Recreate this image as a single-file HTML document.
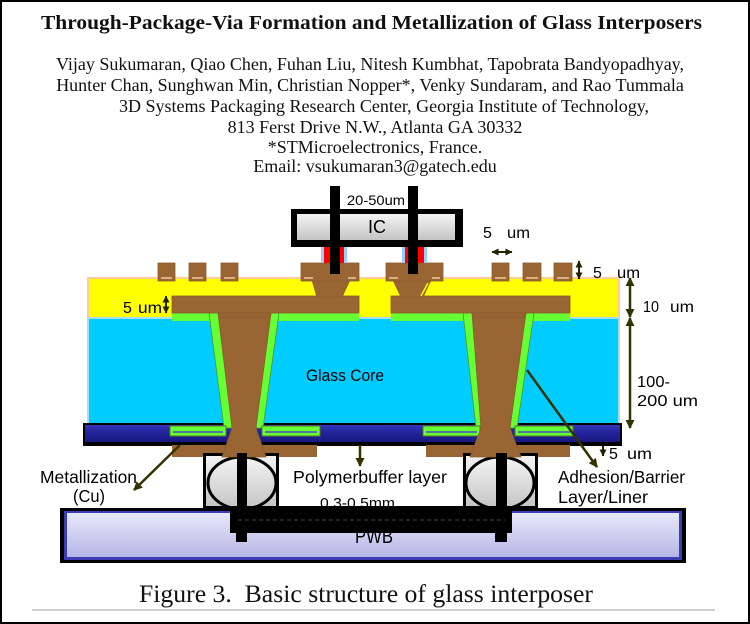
<!DOCTYPE html>
<html><head><meta charset="utf-8"><style>
html,body{margin:0;padding:0;background:#fff;}
svg{display:block;}
.s{font-family:"Liberation Sans","DejaVu Sans",sans-serif;fill:#000;}
.t{font-family:"Liberation Serif","Times New Roman",serif;fill:#111;}
</style></head><body>
<svg width="750" height="624" viewBox="0 0 750 624" xmlns="http://www.w3.org/2000/svg">
<defs>
<marker id="ah" markerWidth="9" markerHeight="9" refX="8" refY="4.5" orient="auto-start-reverse" markerUnits="userSpaceOnUse"><path d="M0,0 L9,4.5 L0,9 z" fill="#333300"/></marker>
<marker id="as" markerWidth="7" markerHeight="7" refX="6.5" refY="3.5" orient="auto-start-reverse" markerUnits="userSpaceOnUse"><path d="M0,0 L7,3.5 L0,7 z" fill="#222200"/></marker>
<linearGradient id="gray" x1="0" y1="0" x2="0" y2="1"><stop offset="0" stop-color="#f4f4f4"/><stop offset="1" stop-color="#c4c4c4"/></linearGradient>
<linearGradient id="navy" x1="0" y1="0" x2="0" y2="1"><stop offset="0" stop-color="#3434b8"/><stop offset="0.5" stop-color="#22229a"/><stop offset="1" stop-color="#181880"/></linearGradient>
<linearGradient id="pwb" x1="0" y1="0" x2="0" y2="1"><stop offset="0" stop-color="#e8e8fa"/><stop offset="1" stop-color="#b6b6e8"/></linearGradient>
</defs>
<rect x="1" y="1" width="748" height="622" fill="#fff" stroke="#000" stroke-width="2"/>

<!-- header text -->
<text class="t" x="41" y="29" font-size="20" font-weight="bold" textLength="661" lengthAdjust="spacingAndGlyphs">Through-Package-Via Formation and Metallization of Glass Interposers</text>
<text class="t" x="370" y="70" font-size="18" text-anchor="middle">Vijay Sukumaran, Qiao Chen, Fuhan Liu, Nitesh Kumbhat, Tapobrata Bandyopadhyay,</text>
<text class="t" x="370" y="91" font-size="18" text-anchor="middle">Hunter Chan, Sunghwan Min, Christian Nopper*, Venky Sundaram, and Rao Tummala</text>
<text class="t" x="384" y="112" font-size="18" text-anchor="middle">3D Systems Packaging Research Center, Georgia Institute of Technology,</text>
<text class="t" x="375" y="133" font-size="18" text-anchor="middle">813 Ferst Drive N.W., Atlanta GA 30332</text>
<text class="t" x="375" y="153" font-size="18" text-anchor="middle">*STMicroelectronics, France.</text>
<text class="t" x="375" y="172" font-size="18" text-anchor="middle">Email: vsukumaran3@gatech.edu</text>

<!-- yellow layer -->
<rect x="88" y="278" width="531" height="41" fill="#ffff00" stroke="#ffcc99" stroke-width="2"/>
<!-- glass core -->
<rect x="88" y="318" width="531" height="106" fill="#00ccff" stroke="#a8dcf0" stroke-width="2"/>
<!-- navy layer -->
<rect x="83" y="423" width="539" height="23" fill="#000"/>
<rect x="85" y="425" width="535" height="17" fill="url(#navy)"/>

<!-- green top strips -->
<rect x="172" y="313" width="187" height="8" fill="#66ff33"/>
<rect x="391" y="313" width="179" height="8" fill="#66ff33"/>
<!-- green liners -->
<polygon points="209,313 279,313 263,428 224,428" fill="#66ff33" stroke="#4a9a20" stroke-width="0.8"/>
<polygon points="463,313 534,313 517,428 476,428" fill="#66ff33" stroke="#4a9a20" stroke-width="0.8"/>
<!-- green pads in navy -->
<g fill="#66ff33" stroke="#557722" stroke-width="1">
<rect x="170" y="426" width="56" height="10"/>
<rect x="262" y="426" width="58" height="10"/>
<rect x="423" y="426" width="57" height="10"/>
<rect x="515" y="426" width="58" height="10"/>
</g>
<g stroke="#4848c0" stroke-width="1.5">
<line x1="173" y1="432" x2="223" y2="432"/>
<line x1="265" y1="432" x2="317" y2="432"/>
<line x1="426" y1="432" x2="477" y2="432"/>
<line x1="518" y1="432" x2="570" y2="432"/>
</g>

<!-- bottom brown pads -->
<rect x="172" y="445" width="145" height="12" fill="#996633"/>
<rect x="426" y="445" width="144" height="12" fill="#996633"/>

<!-- ball boxes -->
<rect x="204.5" y="454.5" width="73" height="53" fill="url(#gray)" stroke="#000" stroke-width="3"/>
<ellipse cx="242" cy="483" rx="34" ry="26" fill="url(#gray)" stroke="#000" stroke-width="3"/>
<rect x="464.5" y="454.5" width="72" height="53" fill="url(#gray)" stroke="#000" stroke-width="3"/>
<ellipse cx="500" cy="483" rx="34" ry="26" fill="url(#gray)" stroke="#000" stroke-width="3"/>

<!-- brown vias, bars, T pads -->
<g fill="#996633" stroke="#8a5a2a" stroke-width="0.8">
<polygon points="218,313 271,313 256,428 266,457 222,457 232,428"/>
<polygon points="472,313 526,313 510,428 521,457 470,457 481,428"/>
<rect x="172" y="296" width="187" height="17"/>
<rect x="391" y="296" width="179" height="17"/>
<polygon points="312,280 350,280 342,297 317,297"/>
<polygon points="393,280 431,280 423,297 401,297"/>
<rect x="301" y="263" width="58" height="18"/>
<rect x="386" y="263" width="57" height="18"/>
<rect x="158" y="263" width="17" height="18"/>
<rect x="189" y="263" width="17" height="18"/>
<rect x="221" y="263" width="17" height="18"/>
<rect x="492" y="263" width="17" height="18"/>
<rect x="523" y="263" width="18" height="18"/>
<rect x="554" y="263" width="18" height="18"/>
</g>
<line x1="428" y1="283" x2="421" y2="296" stroke="#ffff00" stroke-width="1.5"/>
<line x1="219" y1="317" x2="270" y2="317" stroke="#8a5a3a" stroke-width="0.8"/>
<line x1="473" y1="317" x2="525" y2="317" stroke="#8a5a3a" stroke-width="0.8"/>
<g stroke="#f2c8a0" stroke-width="1.5">
<line x1="161" y1="278" x2="172" y2="278"/>
<line x1="192" y1="278" x2="203" y2="278"/>
<line x1="224" y1="278" x2="235" y2="278"/>
<line x1="304" y1="278" x2="313" y2="278"/>
<line x1="348" y1="278" x2="356" y2="278"/>
<line x1="389" y1="278" x2="398" y2="278"/>
<line x1="432" y1="278" x2="440" y2="278"/>
<line x1="495" y1="278" x2="506" y2="278"/>
<line x1="526" y1="278" x2="538" y2="278"/>
<line x1="557" y1="278" x2="569" y2="278"/>
</g>

<!-- IC -->
<rect x="291" y="209" width="172" height="38" fill="#000"/>
<rect x="297" y="214" width="158" height="26" fill="url(#gray)"/>
<!-- red/blue strips -->
<rect x="321" y="247" width="3" height="16" fill="#99ccff"/>
<rect x="324" y="247" width="6" height="16" fill="#ff0000"/>
<rect x="340" y="247" width="4" height="16" fill="#ff0000"/>
<rect x="344" y="247" width="3" height="16" fill="#99ccff"/>
<rect x="402" y="247" width="3" height="16" fill="#99ccff"/>
<rect x="405" y="247" width="3" height="16" fill="#ff0000"/>
<rect x="418" y="247" width="6" height="16" fill="#ff0000"/>
<rect x="424" y="247" width="3" height="16" fill="#99ccff"/>
<!-- vertical black bars -->
<rect x="330" y="186" width="10" height="88" fill="#000"/>
<rect x="408" y="186" width="10" height="88" fill="#000"/>
<text class="s" x="347" y="205" font-size="14" textLength="58" lengthAdjust="spacingAndGlyphs">20-50um</text>
<text class="s" x="368" y="233" font-size="18" textLength="18" lengthAdjust="spacingAndGlyphs">IC</text>

<!-- PWB -->
<rect x="60" y="508" width="626" height="55" fill="#000"/>
<rect x="64" y="511" width="618" height="49" fill="#3c3cb4"/>
<rect x="67" y="513" width="612" height="44" fill="url(#pwb)"/>
<text class="s" x="355" y="543" font-size="20" textLength="38" lengthAdjust="spacingAndGlyphs">PWB</text>
<text class="s" x="320" y="508" font-size="15" textLength="75" lengthAdjust="spacingAndGlyphs">0.3-0.5mm</text>
<!-- black bar -->
<rect x="230" y="506" width="282" height="27" fill="#000"/>
<line x1="238" y1="520" x2="505" y2="520" stroke="#444" stroke-width="1" stroke-dasharray="4,3"/>
<rect x="236" y="533" width="11" height="9" fill="#000"/>
<rect x="495" y="533" width="12" height="9" fill="#000"/>
<rect x="237" y="453" width="10" height="53" fill="#000"/>
<rect x="496" y="453" width="11" height="53" fill="#000"/>

<!-- dimension arrows -->
<g stroke="#333300" stroke-width="2.5" fill="none">
<line x1="630" y1="278" x2="630" y2="317" marker-start="url(#ah)" marker-end="url(#ah)"/>
<line x1="630" y1="318" x2="630" y2="428" marker-start="url(#ah)" marker-end="url(#ah)"/>
<line x1="180" y1="445" x2="134" y2="490" marker-end="url(#ah)"/>
<line x1="527" y1="370" x2="597" y2="467" marker-end="url(#ah)"/>
<line x1="360" y1="445" x2="360" y2="466" marker-end="url(#ah)"/>
</g>
<g stroke="#222200" stroke-width="2" fill="none">
<line x1="579" y1="261" x2="579" y2="279" marker-start="url(#as)" marker-end="url(#as)"/>
<line x1="166" y1="296" x2="166" y2="313" marker-start="url(#as)" marker-end="url(#as)"/>
<line x1="492" y1="252" x2="512" y2="252" marker-start="url(#as)" marker-end="url(#as)"/>
<line x1="603" y1="446" x2="603" y2="456" marker-end="url(#as)"/>
</g>

<!-- labels -->
<text class="s" x="483" y="238" font-size="16">5</text>
<text class="s" x="507" y="238" font-size="16" textLength="23" lengthAdjust="spacingAndGlyphs">um</text>
<text class="s" x="593" y="278" font-size="16">5</text>
<text class="s" x="617" y="278" font-size="16" textLength="23" lengthAdjust="spacingAndGlyphs">um</text>
<text class="s" x="643" y="312" font-size="16" textLength="16" lengthAdjust="spacingAndGlyphs">10</text>
<text class="s" x="670" y="312" font-size="16" textLength="24" lengthAdjust="spacingAndGlyphs">um</text>
<text class="s" x="637" y="387" font-size="16" textLength="33" lengthAdjust="spacingAndGlyphs">100-</text>
<text class="s" x="637" y="406" font-size="16" textLength="61" lengthAdjust="spacingAndGlyphs">200 um</text>
<text class="s" x="609" y="459" font-size="16">5</text>
<text class="s" x="627" y="459" font-size="16" textLength="25" lengthAdjust="spacingAndGlyphs">um</text>
<text class="s" x="123" y="313" font-size="16">5</text>
<text class="s" x="138" y="313" font-size="16" textLength="24" lengthAdjust="spacingAndGlyphs">um</text>
<text class="s" x="306" y="381" font-size="17" textLength="78" lengthAdjust="spacingAndGlyphs">Glass Core</text>
<text class="s" x="40" y="483" font-size="17.5" textLength="97" lengthAdjust="spacingAndGlyphs">Metallization</text>
<text class="s" x="73" y="502" font-size="17.5" textLength="32" lengthAdjust="spacingAndGlyphs">(Cu)</text>
<text class="s" x="293" y="483" font-size="17.5" textLength="154" lengthAdjust="spacingAndGlyphs">Polymerbuffer layer</text>
<text class="s" x="558" y="483" font-size="17.5" textLength="127" lengthAdjust="spacingAndGlyphs">Adhesion/Barrier</text>
<text class="s" x="558" y="503" font-size="17.5" textLength="90" lengthAdjust="spacingAndGlyphs">Layer/Liner</text>

<!-- caption -->
<text class="t" x="139" y="602" font-size="25.5" textLength="454" lengthAdjust="spacingAndGlyphs" xml:space="preserve">Figure 3.  Basic structure of glass interposer</text>
<line x1="32" y1="610" x2="715" y2="610" stroke="#d0d0d0" stroke-width="2"/>
</svg>
</body></html>
